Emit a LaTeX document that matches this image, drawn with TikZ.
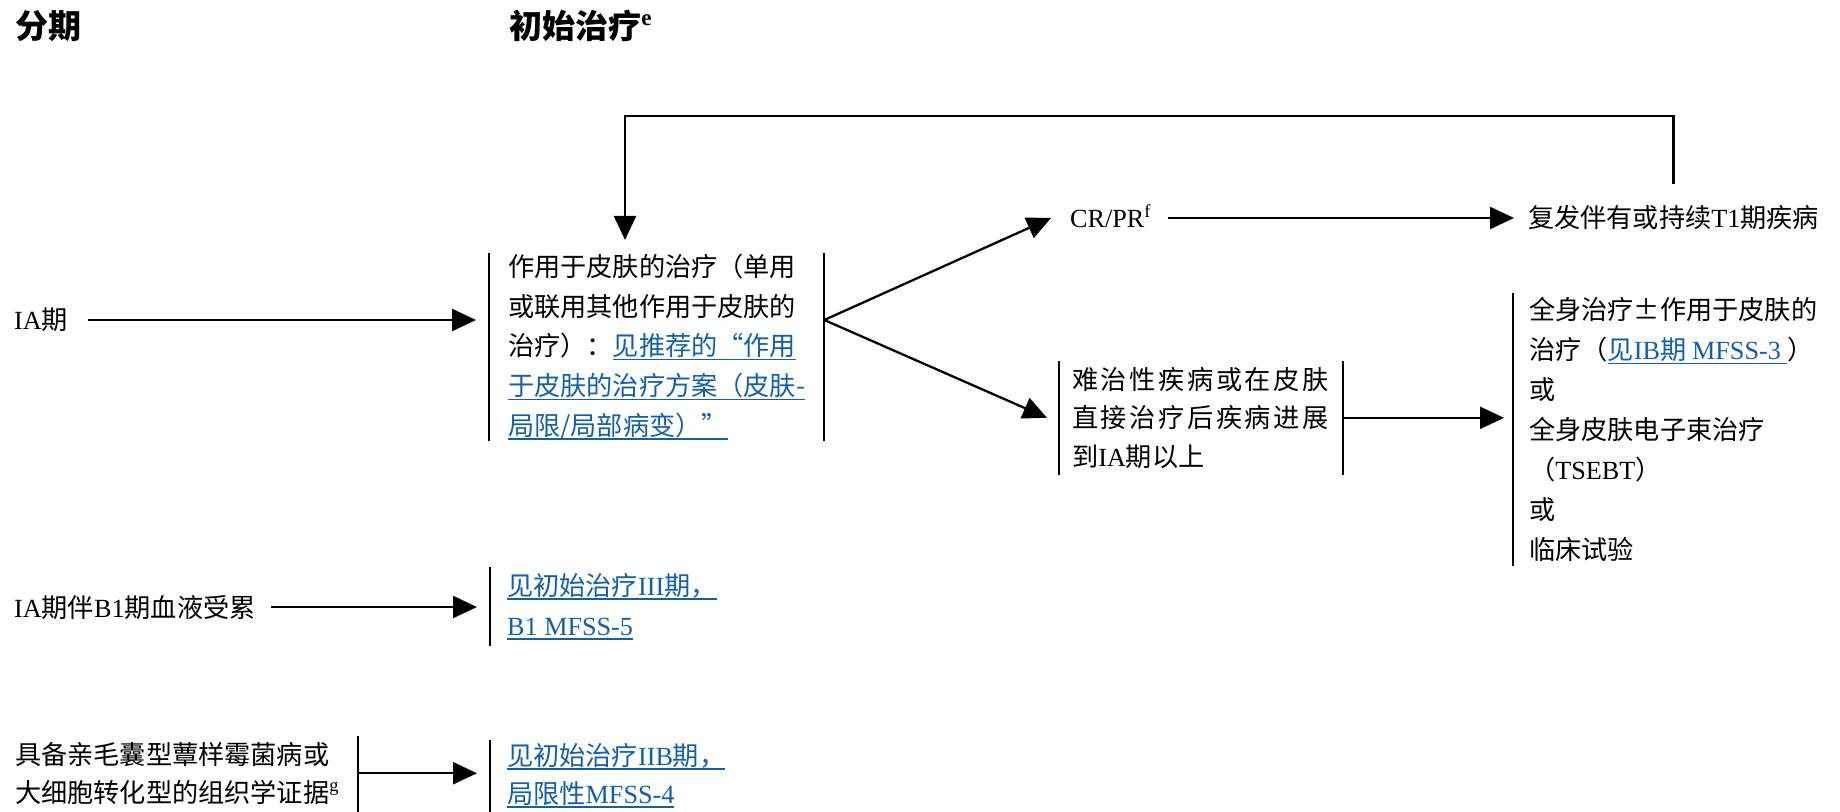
\documentclass[tikz,border=0pt]{standalone}
\usepackage{fontspec, tkz-euclide}
\usetikzlibrary{arrows.meta}
\setmainfont{Noto Sans CJK SC}
\newfontfamily\lat{Liberation Serif}
\newfontfamily\wide[LetterSpace=10]{Noto Sans CJK SC}
\definecolor{linkblue}{RGB}{20,95,170}
\newcommand{\lnk}[1]{\leavevmode{\color{linkblue}\setbox0=\hbox{#1}\rlap{\rule[-0.17em]{\wd0}{0.4pt}}\box0}}
\tikzset{>={Triangle[length=2.4mm,width=2.2mm]}}
\tikzset{lbl/.style={inner sep=0pt, anchor=west, text height=0.23cm, text depth=0.03cm},
         blk/.style={inner xsep=0.17cm, inner ysep=0pt, anchor=north west, align=left},
         head/.style={anchor=west, inner sep=0pt, font=\fontsize{9.4}{11}\selectfont\bfseries}}

\begin{document}
\begin{tikzpicture}[line width=0.65pt, font=\fontsize{7.45}{11.3}\selectfont]
    \useasboundingbox (0,0) rectangle (18.4,8.11);
    \tkzDefPoints{0.14/7.85/S, 5.08/7.85/T, 0.13/4.91/A, 4.89/5.58/B, 10.69/5.93/C, 15.27/5.93/D, 10.59/4.50/E, 15.13/5.18/F, 0.13/2.04/G, 4.90/2.44/H, 0/0.75/K, 4.90/0.71/L, 6.25/6.95/M}
   %\tkzDrawPoints(S,T,A,B,C,D,E,F,G,H,K,L,M)
    \node[head] (stage) at (S) {分期};
    \node[head] (treat) at (T) {初始治疗\textsuperscript{\lat e}};
    \node[lbl] (ia) at (A) {{\lat IA}期};
    \node[blk, inner xsep=0.18cm, text width=2.97cm] (topical) at (B)
        {作用于皮肤的治疗（单用\\或联用其他作用于皮肤的\\治疗）：\lnk{见推荐的“作用}\\\lnk{于皮肤的治疗方案（皮肤-}\\\lnk{局限/局部病变）”}};
    \node[lbl] (crpr) at (C) {\lat CR/PR\textsuperscript{f}};
    \node[lbl] (relapse) at (D) {复发伴有或持续{\lat T1}期疾病};
    \node[blk, inner xsep=0.12cm, inner ysep=0.05cm, text width=2.58cm, font=\fontsize{7.45}{10.95}\selectfont\wide] (refrac) at (E)
        {难治性疾病或在皮肤\\直接治疗后疾病进展\\{\rmfamily 到{\lat IA}期以上}};
    \node[blk, inner xsep=0.15cm, inner ysep=0.03cm, font=\fontsize{7.45}{11.4}\selectfont] (systemic) at (F)
        {全身治疗\makebox[1em]{±}作用于皮肤的\\治疗（\lnk{见{\lat IB}期 {\lat MFSS-3 }}）\\或\\全身皮肤电子束治疗\\（{\lat TSEBT}）\\或\\临床试验};
    \node[lbl] (iab1) at (G) {{\lat IA}期伴{\lat B1}期血液受累};
    \node[blk, inner xsep=0.16cm, inner ysep=0.05cm, font=\fontsize{7.45}{11.4}\selectfont] (seeiii) at (H)
        {\lnk{见初始治疗{\lat III}期，}\\\lnk{\lat B1 MFSS-5}};
    \node[blk, inner xsep=0.14cm, inner ysep=0.05cm, text width=3.28cm, font=\fontsize{7.45}{10.8}\selectfont] (fmf) at (K)
        {具备亲毛囊型蕈样霉菌病或\\大细胞转化型的组织学证据\textsuperscript{\lat g}};
    \node[blk, inner xsep=0.16cm, inner ysep=0.02cm, font=\fontsize{7.45}{10.8}\selectfont] (seeiib) at (L)
        {\lnk{见初始治疗{\lat IIB}期，}\\\lnk{局限性{\lat MFSS-4}}};
    % bars
    \draw (topical.north west) -- (topical.south west) (topical.north east) -- (topical.south east);
    \draw (refrac.north west) -- (refrac.south west) (refrac.north east) -- (refrac.south east);
    \draw (systemic.north west) -- (systemic.south west);
    \draw (seeiii.north west) -- (seeiii.south west);
    \draw (seeiib.north west) -- ([yshift=-2mm]seeiib.south west);
    \draw (fmf.north east) -- ([yshift=-2mm]fmf.south east);
    % arrows
    \draw[->, shorten <=0.19cm, shorten >=0.13cm] (ia.east) -- (ia -| topical.west);
    \draw[->] (ia -| topical.east) -- ([xshift=-0.18cm]crpr.west);
    \draw[->] (ia -| topical.east) -- ([xshift=-0.12cm]refrac.west);
    \draw[->, shorten <=0.15cm, shorten >=0.13cm] (crpr.east) -- (relapse.west);
    \draw[->, shorten <=0.2cm, shorten >=0.13cm] (relapse.north) |- (M) -- (M |- topical.north);
    \draw[->, shorten >=0.09cm] (refrac.east) -- (refrac.east -| systemic.west);
    \draw[->, shorten <=0.14cm, shorten >=0.13cm] (iab1.east) -- (iab1 -| seeiii.west);
    \draw[->, shorten >=0.13cm] (fmf.east) -- (fmf.east -| seeiib.west);
\end{tikzpicture}
\end{document}
